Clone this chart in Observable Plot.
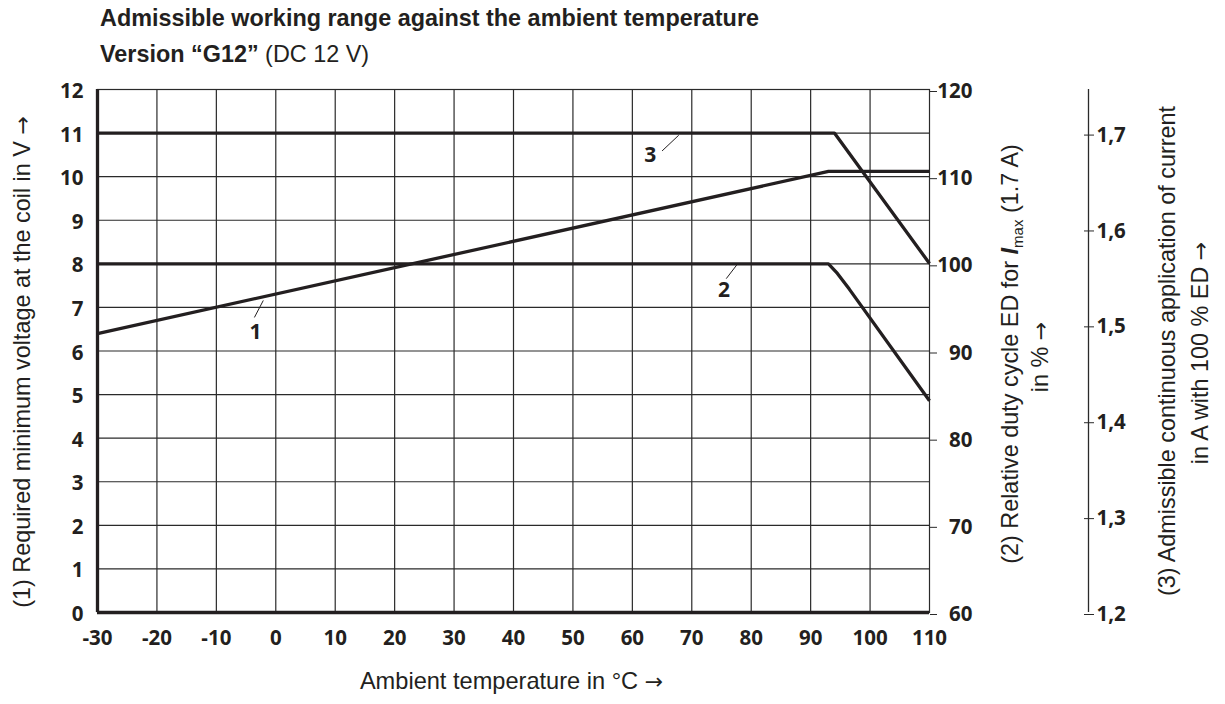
<!DOCTYPE html>
<html><head><meta charset="utf-8">
<script src="https://cdn.jsdelivr.net/npm/d3@7"></script>
<script src="https://cdn.jsdelivr.net/npm/@observablehq/plot@0.6"></script>
<style>
body{margin:0;background:#fff;}
#wrap{position:relative;width:1225px;height:704px;overflow:hidden;}
.ttl{position:absolute;left:100px;font-family:"Liberation Sans",Arial,sans-serif;font-size:23.4px;line-height:23px;color:#231f20;white-space:nowrap;}
#t1{top:7px;font-weight:bold;}
#t2{top:43px;}
#chart{position:absolute;left:0;top:0;}
</style></head>
<body>
<div id="wrap">
  <div id="chart"></div>
  <div class="ttl" id="t1">Admissible working range against the ambient temperature</div>
  <div class="ttl" id="t2"><b>Version “G12”</b> (DC 12 V)</div>
</div>
<script>
// ---- axes / ticks ----
const tempTicks = [-30, -20, -10, 0, 10, 20, 30, 40, 50, 60, 70, 80, 90, 100, 110];
const voltTicks = [0, 1, 2, 3, 4, 5, 6, 7, 8, 9, 10, 11, 12];
const dutyTicks = [60, 70, 80, 90, 100, 110, 120];
const currentTicks = [1.2, 1.3, 1.4, 1.5, 1.6, 1.7];

// ---- series 1: required minimum voltage (V) ----
const s1Temp = [-30, 93, 110];
const s1Volt = [6.4, 10.12, 10.12];
// ---- series 2: relative duty cycle ED (%) ----
const s2Temp = [-30, 93, 94.5, 96.5, 110];
const s2Duty = [100, 100, 98.9, 97.1, 84.3];
// ---- series 3: admissible continuous current (A) ----
const s3Temp = [-30, 94, 110];
const s3Current = [1.7, 1.7, 1.564];

// ---- curve labels ----
const labelNames = ["1", "2", "3"];
const labelTemp = [-3.4, 75.4, 63.0];
const labelVal  = [6.42, 7.39, 10.49];
const leaderTemp1 = [-2.1, 77.6, 67.8];
const leaderVal1  = [7.16, 7.98, 10.95];
const leaderTemp2 = [-3.6, 75.8, 65.0];
const leaderVal2  = [6.77, 7.66, 10.59];

// scale conversions to the left (voltage) axis units
const dutyToY = d => (d - 60) / 5;
const yToDuty = y => String(Math.round(y * 5 + 60));
const curToY = c => (c - 1.2) * 22;
const yToCur = y => (y / 22 + 1.2).toFixed(1).replace(".", ",");

const s1 = s1Temp.map((t, i) => ({t, v: s1Volt[i]}));
const s2 = s2Temp.map((t, i) => ({t, v: dutyToY(s2Duty[i])}));
const s3 = s3Temp.map((t, i) => ({t, v: curToY(s3Current[i])}));
const labels = labelNames.map((n, i) => ({n, x: labelTemp[i], y: labelVal[i],
  x1: leaderTemp1[i], y1: leaderVal1[i], x2: leaderTemp2[i], y2: leaderVal2[i]}));

const ink = "#231f20";
const sans = "'Liberation Sans', Arial, sans-serif";
const lineOpts = {x: "t", y: "v", stroke: ink, strokeWidth: 3.3, strokeLinejoin: "miter", strokeLinecap: "butt"};
const titleOpts = {text: d => d, fontFamily: sans, fontSize: 23.4, fontWeight: "normal", fill: ink, textAnchor: "middle"};

const xMin = tempTicks[0], xMax = tempTicks[tempTicks.length - 1];

const chart = Plot.plot({
  width: 1225, height: 704,
  marginLeft: 97, marginRight: 296, marginTop: 89, marginBottom: 92,
  x: {domain: [xMin, xMax]},
  y: {domain: [voltTicks[0], voltTicks[voltTicks.length - 1]]},
  style: {fontFamily: "'Open Sans', sans-serif", fontSize: "20.5px", fontWeight: "bold", color: ink, background: "white"},
  marks: [
    Plot.gridX(tempTicks.slice(1, -1), {stroke: "#2a2a2a", strokeOpacity: 1, strokeWidth: 1.2}),
    Plot.gridY(voltTicks.slice(1, -1), {stroke: "#2a2a2a", strokeOpacity: 1, strokeWidth: 1.2}),
    Plot.frame({stroke: "#2a2a2a", strokeWidth: 1.2}),
    Plot.ruleX([xMin], {stroke: ink, strokeWidth: 3.3}),
    Plot.ruleY([0], {stroke: ink, strokeWidth: 3.3}),
    Plot.axisX(tempTicks, {tickSize: 0, tickPadding: 18, tickFormat: d => String(d), label: null, fill: ink}),
    Plot.axisY(voltTicks, {anchor: "left", tickSize: 0, tickPadding: 14, tickFormat: d => String(d), dy: 2, label: null, fill: ink}),
    Plot.axisY(dutyTicks.map(dutyToY), {anchor: "right", tickSize: 7, tickPadding: 36, textAnchor: "end",
      tickFormat: yToDuty, dy: 2, label: null, fill: ink, stroke: "#2a2a2a"}),
    Plot.ruleX([xMax], {dx: 159, y1: voltTicks[0], y2: voltTicks[voltTicks.length - 1], stroke: "#2a2a2a", strokeWidth: 1.3}),
    Plot.axisY(currentTicks.map(curToY), {anchor: "right", dx: 154, tickSize: 10, tickPadding: 3,
      tickFormat: yToCur, dy: 2, label: null, fill: ink, stroke: "#2a2a2a"}),
    Plot.line(s1, lineOpts),
    Plot.line(s2, lineOpts),
    Plot.line(s3, lineOpts),
    Plot.link(labels, {x1: "x1", y1: "y1", x2: "x2", y2: "y2", stroke: ink, strokeWidth: 1}),
    Plot.text(labels, {x: "x", y: "y", text: "n", fontSize: 21, fontWeight: "bold", fill: ink}),
    Plot.text(["(1) Required minimum voltage at the coil in V →"], {...titleOpts, frameAnchor: "left", dx: -75.5, dy: 11, rotate: -90}),
    Plot.text(["(2) Relative duty cycle ED for Imax (1.7 A)"], {...titleOpts, frameAnchor: "right", dx: 81, dy: 3, rotate: -90}),
    Plot.text(["in % →"], {...titleOpts, frameAnchor: "right", dx: 111, dy: 6, rotate: -90}),
    Plot.text(["(3) Admissible continuous application of current"], {...titleOpts, frameAnchor: "right", dx: 238, dy: 0, rotate: -90}),
    Plot.text(["in A with 100 % ED →"], {...titleOpts, frameAnchor: "right", dx: 271, dy: 2, rotate: -90}),
    Plot.text(["Ambient temperature in °C →"], {...titleOpts, fontSize: 23.6, frameAnchor: "bottom", dx: -2, dy: 76})
  ]
});
document.getElementById("chart").appendChild(chart);

// rich text: I_max subscript and wider arrows
d3.select(chart).selectAll("text").each(function() {
  const s = this.textContent;
  const t = d3.select(this);
  if (s.startsWith("(2) Relative")) {
    t.text(null);
    t.append("tspan").text("(2) Relative duty cycle ED for ");
    t.append("tspan").attr("font-weight", "bold").attr("font-style", "italic").text("I");
    t.append("tspan").attr("font-size", 15).attr("dy", 5).text("max");
    t.append("tspan").attr("dy", -5).text(" (1.7 A)");
  } else if (this.childElementCount === 0 && s.includes("→")) {
    const parts = s.split("→");
    t.text(null);
    t.append("tspan").text(parts[0]);
    t.append("tspan").attr("font-family", "'DejaVu Sans', sans-serif").attr("font-size", 22).text("→");
    if (parts[1]) t.append("tspan").text(parts[1]);
  }
});
</script>
</body></html>
